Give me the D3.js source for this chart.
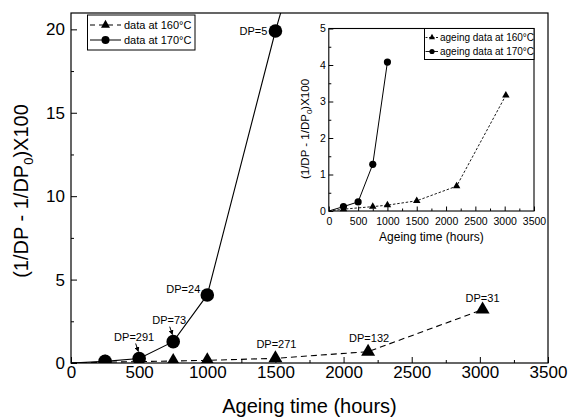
<!DOCTYPE html>
<html><head><meta charset="utf-8">
<script src="https://cdn.jsdelivr.net/npm/d3@7"></script>
<style>
body{margin:0;background:#fff}
text{font-family:"Liberation Sans",Arial,Helvetica,sans-serif;fill:#000}
</style>
</head><body><svg id="c" width="572" height="418"></svg>
<script>
// ---- data ----
const hours160 = [0, 250, 750, 1000, 1500, 2180, 3020];
const values160 = [0, 0.05, 0.12, 0.16, 0.28, 0.68, 3.2];
const labels160 = ["", "", "", "", "DP=271", "DP=132", "DP=31"];
const hours170 = [0, 250, 500, 750, 1000, 1500, 2000];
const values170 = [0, 0.1, 0.27, 1.28, 4.08, 19.9, 34];
const labels170 = ["", "", "DP=291", "DP=73", "DP=24", "DP=5", ""];
const insetHours160 = [0, 250, 750, 1000, 1500, 2180, 3020];
const insetValues160 = [0, 0.05, 0.12, 0.16, 0.28, 0.68, 3.17];
const insetHours170 = [0, 250, 500, 750, 1000];
const insetValues170 = [0, 0.12, 0.25, 1.28, 4.08];
const xTicks = [0, 500, 1000, 1500, 2000, 2500, 3000, 3500];
const yTicks = [0, 5, 10, 15, 20];
const insetYTicks = [0, 1, 2, 3, 4, 5];
const legendMain = ["data at 160°C", "data at 170°C"];
const legendInset = ["ageing data at 160°C", "ageing data at 170°C"];
const arrowLabels = ["DP=291", "DP=73"];

const svg = d3.select("#c");
const defs = svg.append("defs");
const fmt = d3.format("d");

function zip(xs, ys, ls){ return xs.map((x,i)=>({x, y: ys[i], label: ls ? ls[i] : ""})); }
const s160 = zip(hours160, values160, labels160);
const s170 = zip(hours170, values170, labels170);
const i160 = zip(insetHours160, insetValues160);
const i170 = zip(insetHours170, insetValues170);

function tri(w, h){ return `M0,${-h*2/3}L${w/2},${h/3}L${-w/2},${h/3}Z`; }

// ---- main plot ----
const M = {l:71, r:548, t:13, b:363};
const x = d3.scaleLinear().domain([0,3500]).range([M.l, M.r]);
const y = d3.scaleLinear().domain([0,20.98]).range([M.b, M.t]);

defs.append("clipPath").attr("id","clipMain").append("rect")
  .attr("x",M.l).attr("y",M.t).attr("width",M.r-M.l).attr("height",M.b-M.t);

// minor ticks
svg.append("g").attr("transform",`translate(0,${M.b})`)
  .call(d3.axisBottom(x).tickValues(d3.range(250,3500,500)).tickSizeInner(-3).tickSizeOuter(0).tickFormat(""))
  .call(g=>g.select(".domain").remove());
svg.append("g").attr("transform",`translate(${M.l},0)`)
  .call(d3.axisLeft(y).tickValues([2.5,7.5,12.5,17.5]).tickSizeInner(-3).tickSizeOuter(0).tickFormat(""))
  .call(g=>g.select(".domain").remove());
// major ticks
svg.append("g").attr("transform",`translate(0,${M.b})`)
  .call(d3.axisBottom(x).tickValues(xTicks).tickFormat(fmt).tickSizeInner(-6).tickSizeOuter(0).tickPadding(3))
  .call(g=>g.select(".domain").remove())
  .call(g=>g.selectAll("text").attr("font-size",17).attr("font-family","Liberation Sans, Arial"));
svg.append("g").attr("transform",`translate(${M.l},0)`)
  .call(d3.axisLeft(y).tickValues(yTicks).tickFormat(fmt).tickSizeInner(-6).tickSizeOuter(0).tickPadding(6))
  .call(g=>g.select(".domain").remove())
  .call(g=>g.selectAll("text").attr("font-size",17).attr("font-family","Liberation Sans, Arial"));
svg.selectAll(".tick line").attr("stroke","#000");

svg.append("rect").attr("x",M.l).attr("y",M.t).attr("width",M.r-M.l).attr("height",M.b-M.t)
  .attr("fill","none").attr("stroke","#000").attr("stroke-width",1.2);

const line = d3.line().x(d=>x(d.x)).y(d=>y(d.y));
const gm = svg.append("g").attr("clip-path","url(#clipMain)");
gm.append("path").datum(s160).attr("d",line).attr("fill","none").attr("stroke","#000")
  .attr("stroke-width",1.1).attr("stroke-dasharray","6,4");
gm.append("path").datum(s170).attr("d",line).attr("fill","none").attr("stroke","#000")
  .attr("stroke-width",1.1);

const inMain = d=>d.y<=20.98 && d.x>0;
gm.selectAll("path.t160").data(s160.filter(inMain)).join("path").attr("class","t160")
  .attr("transform",d=>`translate(${x(d.x)},${y(d.y)})`).attr("d",tri(14,12)).attr("fill","#000");
gm.selectAll("circle.c170").data(s170.filter(inMain)).join("circle").attr("class","c170")
  .attr("cx",d=>x(d.x)).attr("cy",d=>y(d.y)).attr("r",6.8).attr("fill","#000");

// DP annotations
const labelPlace = {
  "DP=291":[-5,-17,"middle"], "DP=73":[-4,-18,"middle"], "DP=24":[-7,-2,"end"], "DP=5":[-8,4,"end"],
  "DP=271":[1,-10,"middle"], "DP=132":[1,-10,"middle"], "DP=31":[0,-8,"middle"]
};
const annots = s160.concat(s170).filter(d=>d.label);
svg.selectAll("text.dp").data(annots).join("text").attr("class","dp")
  .attr("x",d=>x(d.x)+labelPlace[d.label][0]).attr("y",d=>y(d.y)+labelPlace[d.label][1])
  .attr("text-anchor",d=>labelPlace[d.label][2]).attr("font-size",11).text(d=>d.label);

defs.append("marker").attr("id","arr").attr("viewBox","0 0 10 10").attr("refX",9).attr("refY",5)
  .attr("markerWidth",5).attr("markerHeight",5).attr("orient","auto")
  .append("path").attr("d","M0,0L10,5L0,10Z").attr("fill","#000");
svg.selectAll("line.arrow").data(annots.filter(d=>arrowLabels.includes(d.label))).join("line")
  .attr("class","arrow")
  .attr("x1",d=>x(d.x)-3.5).attr("y1",d=>y(d.y)-15)
  .attr("x2",d=>x(d.x)-0.8).attr("y2",d=>y(d.y)-7)
  .attr("stroke","#000").attr("stroke-width",1).attr("marker-end","url(#arr)");

// axis titles
svg.append("text").attr("x",(M.l+M.r)/2).attr("y",413).attr("text-anchor","middle")
  .attr("font-size",20).text("Ageing time (hours)");
const yt = svg.append("text").attr("transform","translate(28,191) rotate(-90)")
  .attr("text-anchor","middle").attr("font-size",20);
yt.append("tspan").text("(1/DP - 1/DP");
yt.append("tspan").attr("font-size",13).attr("dy",5).text("0");
yt.append("tspan").attr("dy",-5).text(")X100");

// main legend
const lg = svg.append("g");
lg.append("rect").attr("x",87.5).attr("y",15).attr("width",107.5).attr("height",35)
  .attr("fill","#fff").attr("stroke","#000").attr("stroke-width",1);
legendMain.forEach((t,i)=>{
  const yy = 25 + i*15;
  lg.append("line").attr("x1",90).attr("x2",121).attr("y1",yy).attr("y2",yy)
    .attr("stroke","#000").attr("stroke-width",1).attr("stroke-dasharray", i===0 ? "5,4" : null);
  if(i===0) lg.append("path").attr("transform",`translate(105.5,${yy})`).attr("d",tri(9,8)).attr("fill","#000");
  else lg.append("circle").attr("cx",105.5).attr("cy",yy).attr("r",4).attr("fill","#000");
  lg.append("text").attr("x",124).attr("y",yy+4).attr("font-size",11).text(t);
});

// ---- inset ----
const I = {l:328.8, r:534, t:28.5, b:211};
const xi = d3.scaleLinear().domain([0,3500]).range([I.l, I.r]);
const yi = d3.scaleLinear().domain([0,5]).range([I.b, I.t]);
svg.append("rect").attr("x",I.l).attr("y",I.t).attr("width",I.r-I.l).attr("height",I.b-I.t)
  .attr("fill","#fff").attr("stroke","#000").attr("stroke-width",1.1);

svg.append("g").attr("transform",`translate(0,${I.b})`)
  .call(d3.axisBottom(xi).tickValues(d3.range(250,3500,500)).tickSizeInner(-2.5).tickSizeOuter(0).tickFormat(""))
  .call(g=>g.select(".domain").remove());
svg.append("g").attr("transform",`translate(${I.l},0)`)
  .call(d3.axisLeft(yi).tickValues(d3.range(0.5,5,1)).tickSizeInner(-2.5).tickSizeOuter(0).tickFormat(""))
  .call(g=>g.select(".domain").remove());
svg.append("g").attr("transform",`translate(0,${I.b})`)
  .call(d3.axisBottom(xi).tickValues(xTicks).tickFormat(fmt).tickSizeInner(-4.5).tickSizeOuter(0).tickPadding(7))
  .call(g=>g.select(".domain").remove())
  .call(g=>g.selectAll("text").attr("font-size",10.5).attr("font-family","Liberation Sans, Arial"));
svg.append("g").attr("transform",`translate(${I.l},0)`)
  .call(d3.axisLeft(yi).tickValues(insetYTicks).tickFormat(fmt).tickSizeInner(-4.5).tickSizeOuter(0).tickPadding(3))
  .call(g=>g.select(".domain").remove())
  .call(g=>g.selectAll("text").attr("font-size",10.5).attr("font-family","Liberation Sans, Arial"));
svg.selectAll(".tick line").attr("stroke","#000");

const linei = d3.line().x(d=>xi(d.x)).y(d=>yi(d.y));
svg.append("path").datum(i160).attr("d",linei).attr("fill","none").attr("stroke","#000")
  .attr("stroke-width",0.9).attr("stroke-dasharray","2.5,1.8");
svg.append("path").datum(i170).attr("d",linei).attr("fill","none").attr("stroke","#000")
  .attr("stroke-width",1);
svg.selectAll("path.it").data(i160.filter(d=>d.x>0)).join("path").attr("class","it")
  .attr("transform",d=>`translate(${xi(d.x)},${yi(d.y)})`).attr("d",tri(7.5,6.5)).attr("fill","#000");
svg.selectAll("circle.ic").data(i170.filter(d=>d.x>0)).join("circle").attr("class","ic")
  .attr("cx",d=>xi(d.x)).attr("cy",d=>yi(d.y)).attr("r",3.6).attr("fill","#000");

svg.append("text").attr("x",(I.l+I.r)/2).attr("y",241).attr("text-anchor","middle")
  .attr("font-size",12).text("Ageing time (hours)");
const yti = svg.append("text").attr("transform","translate(309,129) rotate(-90)")
  .attr("text-anchor","middle").attr("font-size",11.5);
yti.append("tspan").text("(1/DP - 1/DP");
yti.append("tspan").attr("font-size",8).attr("dy",3).text("0");
yti.append("tspan").attr("dy",-3).text(")X100");

const li = svg.append("g");
li.append("rect").attr("x",424.5).attr("y",28.5).attr("width",109.5).attr("height",31)
  .attr("fill","#fff").attr("stroke","#000").attr("stroke-width",1);
legendInset.forEach((t,i)=>{
  const yy = 37.5 + i*14;
  li.append("line").attr("x1",425.5).attr("x2",438).attr("y1",yy).attr("y2",yy)
    .attr("stroke","#000").attr("stroke-width",0.9).attr("stroke-dasharray", i===0 ? "2,1.5" : null);
  if(i===0) li.append("path").attr("transform",`translate(432,${yy})`).attr("d",tri(6,5.5)).attr("fill","#000");
  else li.append("circle").attr("cx",432).attr("cy",yy).attr("r",2.6).attr("fill","#000");
  li.append("text").attr("x",440).attr("y",yy+3.5).attr("font-size",10).text(t);
});
</script>
</body></html>
